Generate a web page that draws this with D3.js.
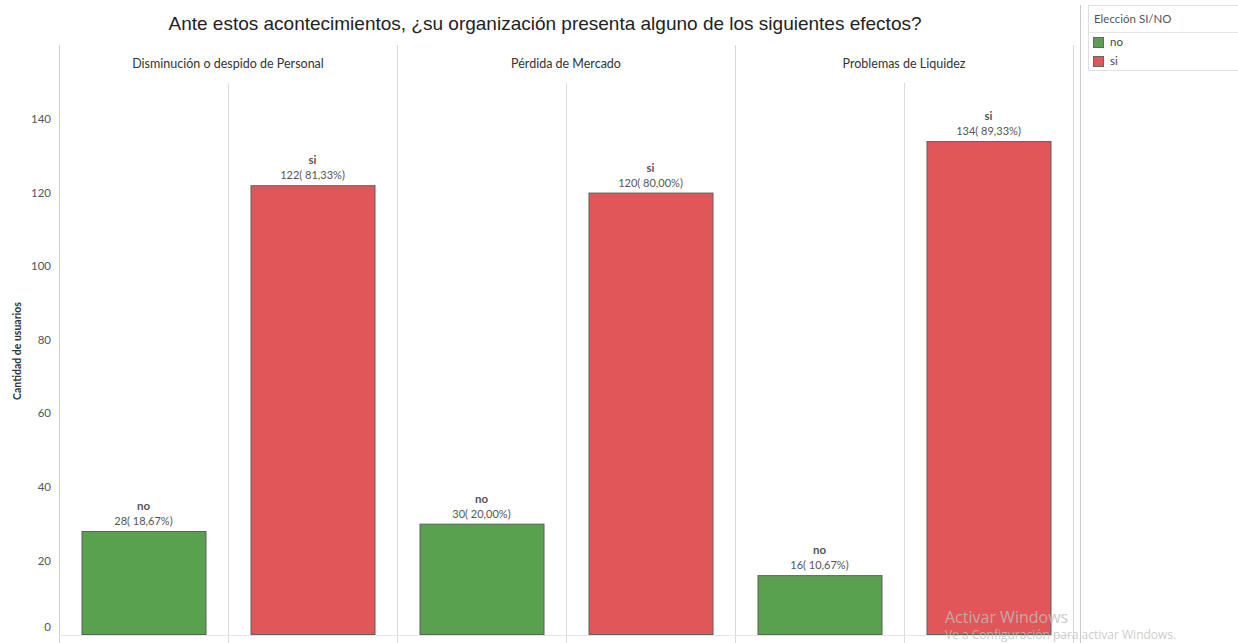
<!DOCTYPE html>
<html>
<head>
<meta charset="utf-8">
<script src="https://cdn.jsdelivr.net/npm/d3@7"></script>
<style>
  body { margin: 0; background: #fff; }
  svg { display: block; font-family: Lato, "Open Sans", sans-serif; }
</style>
</head>
<body>
<svg id="chart" width="1238" height="643"></svg>
<script>
// data
const efectos = ["Disminución o despido de Personal", "Pérdida de Mercado", "Problemas de Liquidez"]
const elecciones = ["no", "si"]
const cantidadNo = [28, 30, 16]
const cantidadSi = [122, 120, 134]
const porcentajeNo = ["18,67%", "20,00%", "10,67%"]
const porcentajeSi = ["81,33%", "80,00%", "89,33%"]
const yTicks = [0, 20, 40, 60, 80, 100, 120, 140]
const colores = { no: "#59a14f", si: "#e15759" }

const rows = []
efectos.forEach((e, i) => {
  rows.push({ efecto: e, eleccion: "no", valor: cantidadNo[i], pct: porcentajeNo[i] })
  rows.push({ efecto: e, eleccion: "si", valor: cantidadSi[i], pct: porcentajeSi[i] })
})

const svg = d3.select("#chart")
const margin = { top: 83, left: 59, bottom: 634 }
const panelW = 338

// Title
svg.append("text")
  .attr("x", 545).attr("y", 30)
  .attr("text-anchor", "middle")
  .attr("font-family", "'Liberation Sans', Arial, sans-serif")
  .attr("font-size", 19)
  .attr("fill", "#222")
  .text("Ante estos acontecimientos, ¿su organización presenta alguno de los siguientes efectos?")

// Scales
const xPanel = d3.scaleBand().domain(efectos).range([margin.left, margin.left + panelW * efectos.length])
const xInner = d3.scaleBand().domain(elecciones).range([0, panelW])
const y = d3.scaleLinear().domain([0, 140]).range([margin.bottom, 119])

// Panel lines
efectos.forEach((e, i) => {
  const x0 = xPanel(e)
  // header divider + panel border
  svg.append("line")
    .attr("x1", x0 + 0.5).attr("x2", x0 + 0.5)
    .attr("y1", 45).attr("y2", 643)
    .attr("stroke", i === 0 ? "#cfcfcf" : "#d9d9d9")
  // inner divider between no / si
  svg.append("line")
    .attr("x1", x0 + panelW / 2 + 0.5).attr("x2", x0 + panelW / 2 + 0.5)
    .attr("y1", margin.top).attr("y2", 643)
    .attr("stroke", "#dcdcdc")
  // header label
  svg.append("text")
    .attr("x", x0 + panelW / 2).attr("y", 68)
    .attr("text-anchor", "middle")
    .attr("font-size", 12.5)
    .attr("fill", "#333")
    .text(e)
})
svg.append("line")
  .attr("x1", 1073.5).attr("x2", 1073.5).attr("y1", 45).attr("y2", 643)
  .attr("stroke", "#d9d9d9")
svg.append("line")
  .attr("x1", 1080.5).attr("x2", 1080.5).attr("y1", 5).attr("y2", 643)
  .attr("stroke", "#c8c8c8")

// baseline
svg.append("line")
  .attr("x1", margin.left).attr("x2", 1073)
  .attr("y1", margin.bottom + 1.5).attr("y2", margin.bottom + 1.5)
  .attr("stroke", "#e6e6e6")

// Y axis
const yAxis = svg.append("g")
  .attr("transform", `translate(${margin.left},0)`)
  .call(d3.axisLeft(y).tickValues(yTicks).tickSize(0).tickPadding(8))
yAxis.select(".domain").remove()
yAxis.selectAll("text")
  .attr("font-family", "Lato, 'Open Sans', sans-serif")
  .attr("font-size", 11.5)
  .attr("fill", "#555")
// bottom label sits a little higher, as in the reference
yAxis.selectAll(".tick").filter(d => d === 0).select("text").attr("y", -7)

svg.append("text")
  .attr("transform", "translate(21,351) rotate(-90)")
  .attr("text-anchor", "middle")
  .attr("font-size", 10.5)
  .attr("font-weight", "bold")
  .attr("fill", "#333")
  .text("Cantidad de usuarios")

// Bars
const barW = 124
const g = svg.append("g")
const barX = d => xPanel(d.efecto) + xInner(d.eleccion) + (xInner.bandwidth() - barW) / 2

g.selectAll("rect.bar")
  .data(rows)
  .enter().append("rect")
  .attr("class", "bar")
  .attr("x", d => barX(d) + 0.5)
  .attr("y", d => y(d.valor) + 0.5)
  .attr("width", barW)
  .attr("height", d => y(0) - y(d.valor))
  .attr("fill", d => colores[d.eleccion])
  .attr("stroke", "#5f5f5f")
  .attr("stroke-width", 1)

g.selectAll("text.cat")
  .data(rows)
  .enter().append("text")
  .attr("class", "cat")
  .attr("x", d => barX(d) + barW / 2)
  .attr("y", d => y(d.valor) - 21)
  .attr("text-anchor", "middle")
  .attr("font-size", 11.5)
  .attr("font-weight", "bold")
  .attr("fill", "#555")
  .text(d => d.eleccion)

g.selectAll("text.val")
  .data(rows)
  .enter().append("text")
  .attr("class", "val")
  .attr("x", d => barX(d) + barW / 2)
  .attr("y", d => y(d.valor) - 6)
  .attr("text-anchor", "middle")
  .attr("font-size", 11)
  .attr("fill", "#555")
  .text(d => `${d.valor}( ${d.pct})`)

// Legend
const leg = svg.append("g")
leg.append("rect")
  .attr("x", 1088.5).attr("y", 5.5).attr("width", 160).attr("height", 65)
  .attr("fill", "#fff").attr("stroke", "#e0e0e0")
leg.append("line")
  .attr("x1", 1089).attr("x2", 1238).attr("y1", 32.5).attr("y2", 32.5)
  .attr("stroke", "#e6e6e6")
leg.append("text")
  .attr("x", 1094).attr("y", 23)
  .attr("font-size", 11.5).attr("fill", "#555")
  .text("Elección SI/NO")
elecciones.forEach((k, i) => {
  leg.append("rect")
    .attr("x", 1093.5).attr("y", 37.5 + i * 19).attr("width", 10).attr("height", 10)
    .attr("fill", colores[k]).attr("stroke", "#666")
  leg.append("text")
    .attr("x", 1110).attr("y", 46 + i * 19)
    .attr("font-size", 11.5).attr("fill", "#444")
    .text(k)
})

// watermark as seen in the screenshot
svg.append("text")
  .attr("x", 945).attr("y", 623)
  .attr("font-family", "'Open Sans', sans-serif")
  .attr("font-size", 16).attr("fill", "#bdbdbd").attr("fill-opacity", 0.8)
  .text("Activar Windows")
svg.append("text")
  .attr("x", 945).attr("y", 639)
  .attr("font-family", "'Open Sans', sans-serif")
  .attr("font-size", 12).attr("fill", "#bdbdbd").attr("fill-opacity", 0.8)
  .text("Ve a Configuración para activar Windows.")
</script>
</body>
</html>
